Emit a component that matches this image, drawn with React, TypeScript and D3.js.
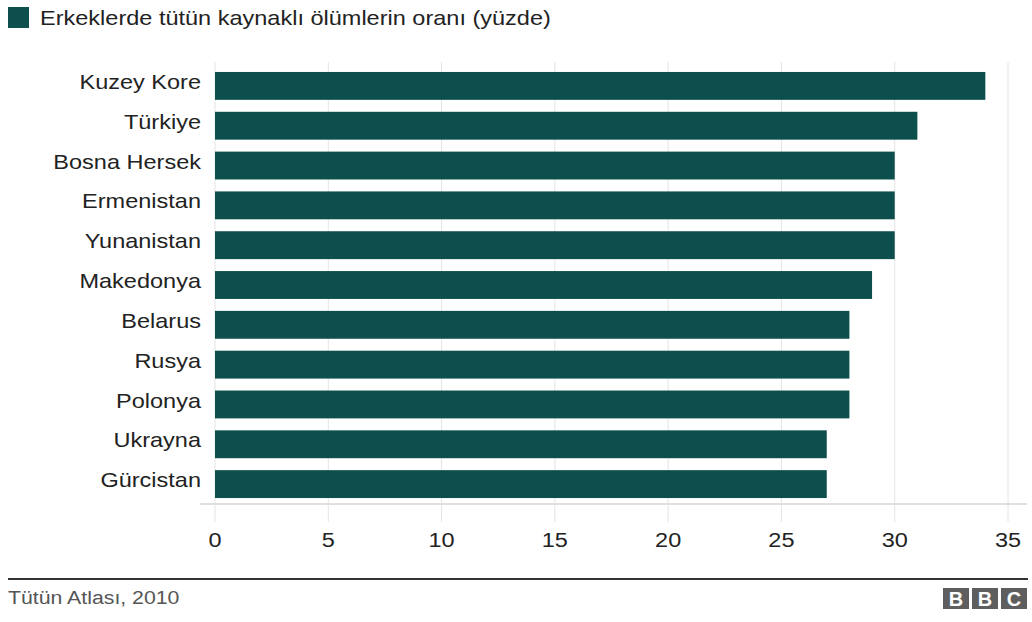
import React, { useEffect, useRef } from "react";
import * as d3 from "d3";

const countries = [
  "Kuzey Kore",
  "Türkiye",
  "Bosna Hersek",
  "Ermenistan",
  "Yunanistan",
  "Makedonya",
  "Belarus",
  "Rusya",
  "Polonya",
  "Ukrayna",
  "Gürcistan",
];
const shares = [34, 31, 30, 30, 30, 29, 28, 28, 28, 27, 27];
const xTicks = [0, 5, 10, 15, 20, 25, 30, 35];

const legendLabel = "Erkeklerde tütün kaynaklı ölümlerin oranı (yüzde)";
const sourceLabel = "Tütün Atlası, 2010";

const BAR_COLOR = "#0d4f4c";
const FONT = "'Liberation Sans', Arial, sans-serif";
// the source image is a little wider than it is tall, so text is stretched
const SX = 1.12;

const App = () => {
  const ref = useRef<HTMLDivElement>(null);

  useEffect(() => {
    const width = 1032;
    const height = 622;

    d3.select(ref.current).select("svg").remove();

    const svg = d3
      .select(ref.current)
      .append("svg")
      .attr("width", width)
      .attr("height", height)
      .style("position", "absolute")
      .style("left", "0px")
      .style("top", "0px")
      .style("background", "#fff")
      .style("font-family", FONT);

    const rows = countries.map((c, i) => ({ country: c, value: shares[i] }));

    const x = d3.scaleLinear().domain([0, 35]).range([215, 1008]);
    const y = d3
      .scaleBand()
      .domain(countries)
      .range([66, 504])
      .paddingInner(0.3)
      .paddingOuter(0.15);

    const at = (px: number, py: number) =>
      `translate(${px},${py}) scale(${SX},1)`;

    // legend
    svg
      .append("rect")
      .attr("x", 8)
      .attr("y", 7)
      .attr("width", 21)
      .attr("height", 21)
      .attr("fill", BAR_COLOR);
    svg
      .append("text")
      .attr("transform", at(40, 25))
      .style("font-size", "21px")
      .attr("fill", "#222")
      .text(legendLabel);

    // grid lines
    svg
      .append("g")
      .selectAll("line")
      .data(xTicks)
      .enter()
      .append("line")
      .attr("x1", (d) => x(d))
      .attr("x2", (d) => x(d))
      .attr("y1", 62)
      .attr("y2", 522)
      .attr("stroke", "#e4e4e4")
      .attr("stroke-width", 1);

    // baseline
    svg
      .append("line")
      .attr("x1", 200)
      .attr("x2", 1027)
      .attr("y1", 504)
      .attr("y2", 504)
      .attr("stroke", "#e0e0e0")
      .attr("stroke-width", 2);

    // bars
    svg
      .append("g")
      .selectAll("rect")
      .data(rows)
      .enter()
      .append("rect")
      .attr("x", x(0))
      .attr("y", (d) => y(d.country)!)
      .attr("width", (d) => x(d.value) - x(0))
      .attr("height", y.bandwidth())
      .attr("fill", BAR_COLOR);

    // category labels
    svg
      .append("g")
      .selectAll("text")
      .data(rows)
      .enter()
      .append("text")
      .attr("transform", (d) => at(201, y(d.country)! + y.bandwidth() / 2 - 4))
      .attr("dominant-baseline", "central")
      .attr("text-anchor", "end")
      .style("font-size", "21px")
      .attr("fill", "#222")
      .text((d) => d.country);

    // x tick labels
    svg
      .append("g")
      .selectAll("text")
      .data(xTicks)
      .enter()
      .append("text")
      .attr("transform", (d) => at(x(d), 547))
      .attr("text-anchor", "middle")
      .style("font-size", "21px")
      .attr("fill", "#222")
      .text((d) => d);

    // footer
    svg
      .append("line")
      .attr("x1", 8)
      .attr("x2", 1028)
      .attr("y1", 579)
      .attr("y2", 579)
      .attr("stroke", "#333")
      .attr("stroke-width", 2);
    svg
      .append("text")
      .attr("transform", at(8, 604))
      .style("font-size", "19px")
      .attr("fill", "#555")
      .text(sourceLabel);

    const bbc = svg.append("g").attr("transform", "translate(943,588)");
    ["B", "B", "C"].forEach((letter, i) => {
      bbc
        .append("rect")
        .attr("x", i * 29)
        .attr("y", 0)
        .attr("width", 26)
        .attr("height", 21)
        .attr("fill", "#5e5e5e");
      bbc
        .append("text")
        .attr("x", i * 29 + 13)
        .attr("y", 18)
        .attr("text-anchor", "middle")
        .style("font-size", "20px")
        .style("font-weight", "700")
        .attr("fill", "#fff")
        .text(letter);
    });
  }, []);

  return <div ref={ref}></div>;
};

export default App;
